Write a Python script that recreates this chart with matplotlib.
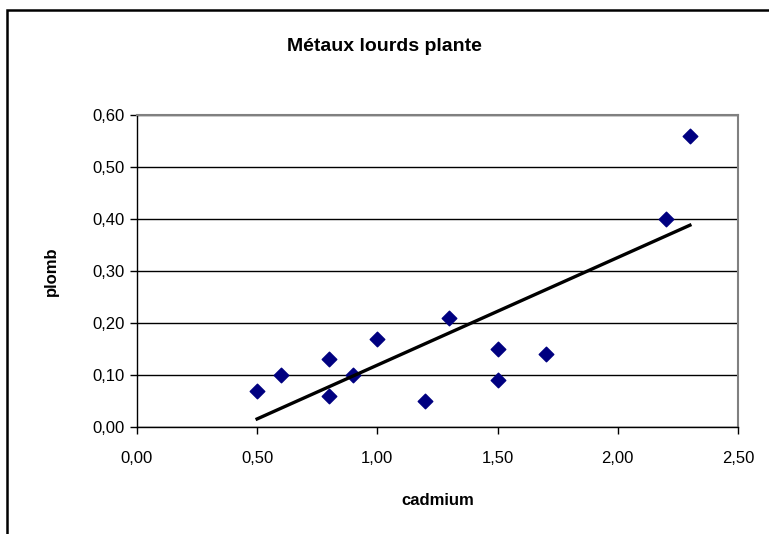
import matplotlib.pyplot as plt
import numpy as np
from matplotlib.patches import Rectangle
from matplotlib.ticker import FuncFormatter

plt.rcParams['font.family'] = ['Liberation Sans', 'DejaVu Sans']

# data
cadmium = [0.5, 0.6, 0.8, 0.8, 0.9, 1.0, 1.2, 1.3, 1.5, 1.5, 1.7, 2.2, 2.3]
plomb = [0.07, 0.10, 0.13, 0.06, 0.10, 0.17, 0.05, 0.21, 0.15, 0.09, 0.14, 0.40, 0.56]
x_ticks = [0.0, 0.5, 1.0, 1.5, 2.0, 2.5]
y_ticks = [0.0, 0.1, 0.2, 0.3, 0.4, 0.5, 0.6]

fig = plt.figure(figsize=(7.69, 5.34), dpi=100)
ax = fig.add_axes([0.178, 0.2004, 0.7817, 0.5842])

# outer chart frame
fig.patches.append(Rectangle((7 / 769, -0.05), 1.2, 1 - 10 / 534 + 0.05,
                             transform=fig.transFigure, fill=False,
                             edgecolor='black', linewidth=1.8))

ax.scatter(cadmium, plomb, marker='D', s=55, color='#000080', zorder=3)

# linear trend line
a, b = np.polyfit(cadmium, plomb, 1)
xs = np.array([min(cadmium), max(cadmium)])
ax.plot(xs, a * xs + b, color='black', linewidth=2.4, zorder=4)

ax.set_xlim(0, 2.5)
ax.set_ylim(0, 0.6)
ax.set_xticks(x_ticks)
ax.set_yticks(y_ticks)
fmt = FuncFormatter(lambda v, p: f'{v:.2f}'.replace('.', ','))
ax.xaxis.set_major_formatter(fmt)
ax.yaxis.set_major_formatter(fmt)
ax.tick_params(direction='out', length=5, width=1, labelsize=12, pad=4)
ax.tick_params(axis='x', pad=12)

ax.yaxis.grid(True, color='black', linewidth=1)
ax.set_axisbelow(True)
for s in ['top', 'right']:
    ax.spines[s].set_color('#808080')
    ax.spines[s].set_linewidth(1.5)
for s in ['left', 'bottom']:
    ax.spines[s].set_color('black')
    ax.spines[s].set_linewidth(1)

ax.set_xlabel('cadmium', fontsize=12, fontweight='bold', labelpad=20)
ax.set_ylabel('plomb', fontsize=12, fontweight='bold', labelpad=24)
fig.text(0.5, 0.912, 'Métaux lourds plante', ha='center', va='center',
         fontsize=14, fontweight='bold')

fig.savefig('out.png', dpi=100)
